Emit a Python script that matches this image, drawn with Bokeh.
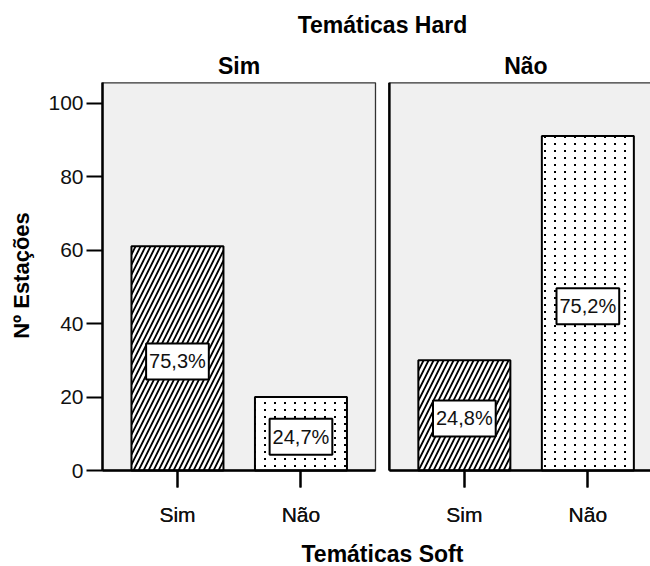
import math
from bokeh.plotting import figure
from bokeh.models import (Range1d, FixedTicker, BoxAnnotation, Label, LinearAxis,
                          CanvasTexture)
from bokeh.core.properties import value
from bokeh.embed import file_html
from bokeh.resources import INLINE

# ---------------- data ----------------
hard_groups = ["Sim", "Não"]          # Temáticas Hard (panels)
soft_cats = ["Sim", "Não"]            # Temáticas Soft (x categories)
counts_hard_sim = [61, 20]            # panel "Sim": soft Sim, soft Não
counts_hard_nao = [30, 91]            # panel "Não": soft Sim, soft Não
y_ticks = [0, 20, 40, 60, 80, 100]
title_top = "Temáticas Hard"
title_bottom = "Temáticas Soft"
y_title = "Nº Estações"

# ---------------- layout constants ----------------
FONT = "Liberation Sans"
W, H = 650, 566
PX_PER_Y = 3.675          # pixels per count unit
PX_PER_X = 123.5          # pixels per category step
ZERO_PX = 470             # canvas y of the zero line
LEFT_PX = 102             # canvas x of the first panel's left edge
Y_MAX = 105.5             # top of the panels
X_PAD = 0.607             # panel edge to first bar centre
GROUP_STEP = 2.323        # distance between panels
PANEL_W = 2.2105
BAR_W = 0.745

def y_of(py):
    return (ZERO_PX - py) / PX_PER_Y

def x_of(px):
    return -X_PAD + (px - LEFT_PX) / PX_PER_X

p = figure(width=W, height=H, output_backend="svg", toolbar_location=None,
           x_range=Range1d(x_of(0), x_of(W)), y_range=Range1d(y_of(H), y_of(0)),
           x_axis_location=None, y_axis_location=None,
           min_border_left=0, min_border_right=0, min_border_top=0,
           min_border_bottom=0)
p.title.visible = False
p.background_fill_color = "white"
p.border_fill_color = "white"
p.outline_line_color = None
p.xgrid.visible = False
p.ygrid.visible = False

# panels
panel_lefts = [g * GROUP_STEP - X_PAD for g in range(len(hard_groups))]
for g, left in enumerate(panel_lefts):
    p.add_layout(BoxAnnotation(left=left, right=left + PANEL_W, bottom=0, top=Y_MAX,
                               fill_color="#f0f0f0", fill_alpha=1.0,
                               line_color="#333333", line_alpha=1.0, line_width=1.3,
                               level="underlay"))
p.segment(x0=[panel_lefts[1]], y0=[0], x1=[panel_lefts[1]], y1=[Y_MAX],
          line_color="black", line_width=2.5)

# fine dot texture (10 x 7 px grid of small dots)
dot_texture = CanvasTexture(repetition="repeat", code="""
ctx.canvas.width = 10;
ctx.canvas.height = 7;
ctx.fillStyle = "black";
ctx.fillRect(4, 3, 2, 2);
""")

# bars
groups = [counts_hard_sim, counts_hard_nao]
hatches = {"Sim": ("/", 10, 1.8), "Não": ("fine_dots", 10, 1.0)}
xs_all = []
for c, cat in enumerate(soft_cats):
    xs = [g * GROUP_STEP + c for g in range(len(hard_groups))]
    tops = [groups[g][c] for g in range(len(hard_groups))]
    pat, sc, wt = hatches[cat]
    p.vbar(x=xs, top=tops, bottom=0, width=BAR_W, fill_color="white",
           line_color="black", line_width=2, hatch_pattern=value(pat),
           hatch_color="black", hatch_scale=sc, hatch_weight=wt,
           hatch_extra={"fine_dots": dot_texture})

for g in range(len(hard_groups)):
    tot = sum(groups[g])
    for c in range(len(soft_cats)):
        v = groups[g][c]
        x = g * GROUP_STEP + c
        xs_all.append(x)
        txt = f"{100 * v / tot:.1f}%".replace(".", ",")
        p.add_layout(Label(x=x, y=v / 2, text=txt, text_align="center",
                           text_baseline="middle", text_font=FONT,
                           text_font_size="20px", text_color="#111111", y_offset=-3,
                           background_fill_color="white", background_fill_alpha=1.0,
                           border_line_color="black", border_line_width=2,
                           padding=(3, 7)))

# y axis (at the first panel's left edge)
yaxis = LinearAxis(fixed_location=panel_lefts[0], bounds=(0, Y_MAX),
                   ticker=FixedTicker(ticks=y_ticks))
yaxis.axis_line_width = 2.5
yaxis.major_tick_out = 16
yaxis.major_tick_in = 0
yaxis.major_tick_line_width = 2
yaxis.minor_tick_line_color = None
yaxis.major_label_text_font = FONT
yaxis.major_label_text_font_size = "21px"
yaxis.major_label_text_color = "#111111"
yaxis.major_label_standoff = 3
p.add_layout(yaxis, "left")

# x axes: one per panel so the base line breaks between panels
xticks = sorted(xs_all)
overrides = {x: soft_cats[i % 2] for i, x in enumerate(xticks)}
for left in panel_lefts:
    xaxis = LinearAxis(fixed_location=0, bounds=(left, left + PANEL_W),
                       ticker=FixedTicker(ticks=xticks))
    xaxis.major_label_overrides = overrides
    xaxis.axis_line_width = 2.5
    xaxis.major_tick_out = 17
    xaxis.major_tick_in = 0
    xaxis.major_tick_line_width = 2
    xaxis.minor_tick_line_color = None
    xaxis.major_label_text_font = FONT
    xaxis.major_label_text_font_size = "21px"
    xaxis.major_label_text_color = "#111111"
    xaxis.major_label_standoff = 15
    p.add_layout(xaxis, "below")

# titles
mid_all = (panel_lefts[0] + panel_lefts[1] + PANEL_W) / 2
bold = dict(text_font=FONT, text_font_style="bold", text_font_size="23px",
            text_color="black", text_baseline="middle")
p.add_layout(Label(x=mid_all, y=y_of(24), text=title_top, text_align="center", **bold))
for g, name in enumerate(hard_groups):
    p.add_layout(Label(x=panel_lefts[g] + PANEL_W / 2, y=y_of(65), text=name,
                       text_align="center", **bold))
p.add_layout(Label(x=mid_all, y=y_of(553), text=title_bottom, text_align="center",
                   **bold))
p.add_layout(Label(x=x_of(21), y=y_of(275), text=y_title, angle=math.pi / 2,
                   text_align="center", text_baseline="middle",
                   text_font=FONT, text_font_style="bold", text_font_size="22px",
                   text_color="black"))

open("out.html", "w").write(file_html(p, INLINE))
